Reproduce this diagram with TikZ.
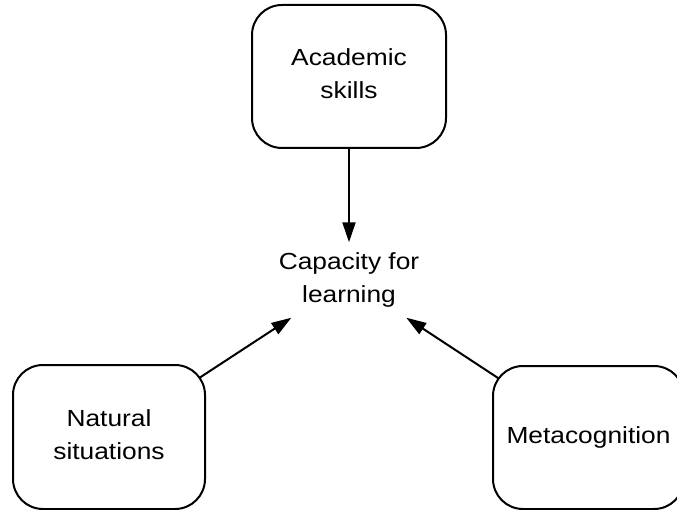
\documentclass[tikz,border=0pt]{standalone}
\usepackage{fontspec}
\setmainfont{Liberation Sans}[FakeStretch=1.13]
\usetikzlibrary{arrows.meta,calc}
\begin{document}
\begin{tikzpicture}[x=1pt,y=-1pt,
  labelfont/.style={font=\fontsize{23.3}{33.5}\selectfont},
  box/.style={draw=black, line width=2pt, rounded corners=30pt,
    minimum width=192pt, minimum height=143pt, align=center,
    inner sep=0pt, labelfont},
  hub/.style={align=center, minimum width=150pt, minimum height=75pt,
    inner sep=0pt, labelfont},
  link/.style={line width=2pt, -{Triangle[length=20pt,width=13pt]}}]
\clip (0,0) rectangle (677,510);

% the three sources
\node[box, minimum width=194pt, text depth=6pt] (acad) at (349,76.5) {Academic\\skills};
\node[box, minimum height=144pt, text depth=5pt] (nat) at (109,437) {Natural\\situations};
\node[box, minimum width=191pt] (meta) at (588.5,437.5) {Metacognition};

% the central idea
\node[hub] (cap) at (349,280) {Capacity for\\learning};

% links into the centre
\draw[link] (acad.south) -- (cap.north);
\draw[link] ($(nat.center)!0.377!(cap.center)$) -- (cap);
\draw[link] ($(meta.center)!0.375!(cap.center)$) -- (cap);
\end{tikzpicture}
\end{document}
